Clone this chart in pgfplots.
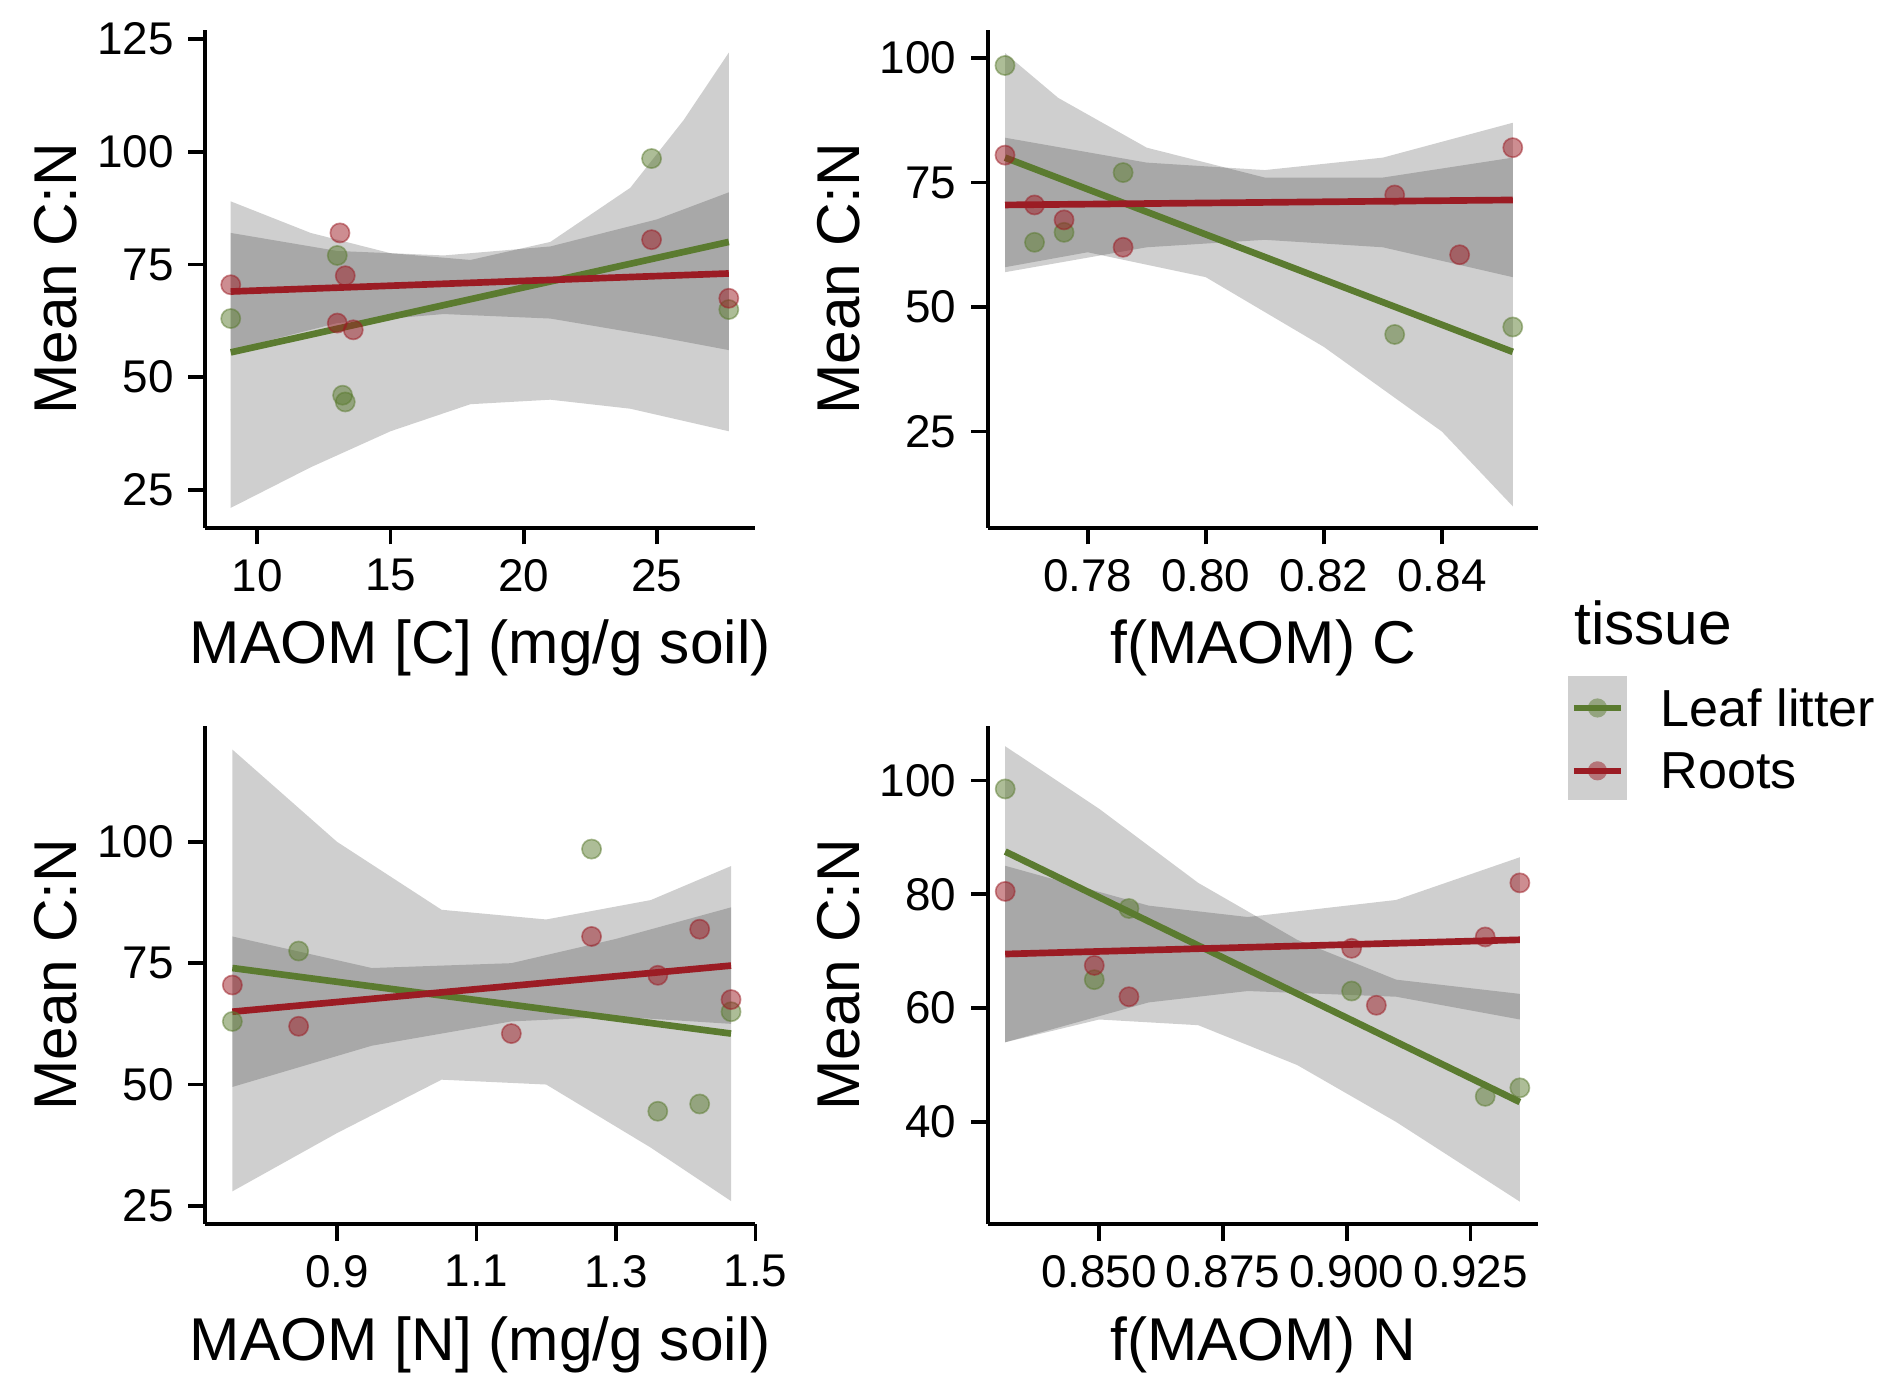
\documentclass[border=0pt]{standalone}
\usepackage{pgfplots}
\pgfplotsset{compat=1.18}
\usepackage{fontspec}
\setmainfont{Liberation Sans}
\definecolor{leaf}{HTML}{5B7B30}
\definecolor{root}{HTML}{9B1C24}
\pgfplotsset{
  base/.style={scale only axis, width=4.64cm, height=4.20cm,
    axis lines=left, axis line style={-, line width=0.9pt},
    tick align=outside, tick pos=left, major tick length=4pt,
    every tick/.style={black, line width=0.9pt},
    /pgf/number format/assume math mode=true,
    tick label style={font=\fontsize{11}{13}\selectfont},
    label style={font=\fontsize{14.5}{17}\selectfont},
    ylabel={Mean C:N}, ylabel style={yshift=-2pt},
    clip=false},
  band/.style={fill=black, fill opacity=0.19, draw=none, forget plot},
  lf/.style={leaf, line width=1.6pt},
  rt/.style={root, line width=1.6pt},
  lp/.style={only marks, mark=*, mark size=2.3pt, draw=leaf, fill=leaf, opacity=0.5},
  rp/.style={only marks, mark=*, mark size=2.3pt, draw=root, fill=root, opacity=0.5},
}
\begin{document}
\begin{tikzpicture}
\path (0,0) rectangle (15.68,11.76);
% Panel 1
\begin{axis}[base, at={(1.73cm,7.31cm)}, xmin=8.04, xmax=28.7, ymin=16.6, ymax=127.1,
  xtick={10,15,20,25}, ytick={25,50,75,100,125}, xlabel={MAOM [C] (mg/g soil)}]
\addplot[band] coordinates {(9,89)(12,82)(15,77.5)(18,76)(21,80)(24,92)(26,107)(27.7,122)(27.7,38)(24,43)(21,45)(18,44)(15,38)(12,30)(9,21)} -- cycle;
\addplot[band] coordinates {(9,82)(13,78)(17,77)(21,79)(25,85)(27.7,91)(27.7,56)(25,59)(21,63)(17,64)(13,62)(9,56)} -- cycle;
\addplot[lp] coordinates {(9,63)(13,77)(13.2,46)(13.3,44.5)(24.8,98.5)(27.7,65)};
\addplot[rp] coordinates {(9,70.5)(13.1,82)(13.3,72.5)(13,62)(13.6,60.5)(24.8,80.5)(27.7,67.5)};
\addplot[lf] coordinates {(9,55.5)(27.7,80)};
\addplot[rt] coordinates {(9,69)(27.7,73)};
\end{axis}
% Panel 2
\begin{axis}[base, at={(8.33cm,7.31cm)}, xmin=0.7631, xmax=0.8563, ymin=5.7, ymax=105.7,
  xtick={0.78,0.80,0.82,0.84}, ytick={25,50,75,100},
  xticklabel style={/pgf/number format/.cd, fixed, fixed zerofill, precision=2},
  xlabel={f(MAOM) C}]
\addplot[band] coordinates {(0.766,101)(0.775,92)(0.79,82)(0.81,76)(0.83,76)(0.852,80)(0.852,10)(0.84,25)(0.82,42)(0.8,56)(0.78,61)(0.766,58)} -- cycle;
\addplot[band] coordinates {(0.766,84)(0.79,79)(0.81,77.5)(0.83,80)(0.852,87)(0.852,56)(0.83,62)(0.81,63.5)(0.79,62)(0.766,57)} -- cycle;
\addplot[lp] coordinates {(0.766,98.5)(0.771,63)(0.776,65)(0.786,77)(0.832,44.5)(0.852,46)};
\addplot[rp] coordinates {(0.766,80.5)(0.771,70.5)(0.776,67.5)(0.786,62)(0.832,72.5)(0.843,60.5)(0.852,82)};
\addplot[lf] coordinates {(0.766,80)(0.852,41)};
\addplot[rt] coordinates {(0.766,70.5)(0.852,71.5)};
\end{axis}
% Panel 3
\begin{axis}[base, at={(1.73cm,1.44cm)}, xmin=0.711, xmax=1.5, ymin=21.3, ymax=123.9,
  xtick={0.9,1.1,1.3,1.5}, ytick={25,50,75,100},
  xticklabel style={/pgf/number format/.cd, fixed, fixed zerofill, precision=1},
  xlabel={MAOM [N] (mg/g soil)}]
\addplot[band] coordinates {(0.75,119)(0.9,100)(1.05,86)(1.2,84)(1.35,88)(1.465,95)(1.465,26)(1.35,37)(1.2,50)(1.05,51)(0.9,40)(0.75,28)} -- cycle;
\addplot[band] coordinates {(0.75,80.5)(0.95,74)(1.15,75)(1.3,80)(1.465,86.5)(1.465,62.5)(1.3,64)(1.15,63)(0.95,58)(0.75,49.5)} -- cycle;
\addplot[lp] coordinates {(0.75,63)(0.845,77.5)(1.265,98.5)(1.36,44.5)(1.42,46)(1.465,65)};
\addplot[rp] coordinates {(0.75,70.5)(0.845,62)(1.15,60.5)(1.265,80.5)(1.36,72.5)(1.42,82)(1.465,67.5)};
\addplot[lf] coordinates {(0.75,74)(1.465,60.5)};
\addplot[rt] coordinates {(0.75,65)(1.465,74.5)};
\end{axis}
% Panel 4
\begin{axis}[base, at={(8.33cm,1.44cm)}, xmin=0.8275, xmax=0.9387, ymin=22.1, ymax=109.6,
  xtick={0.85,0.875,0.9,0.925}, ytick={40,60,80,100},
  xticklabel style={/pgf/number format/.cd, fixed, fixed zerofill, precision=3},
  xlabel={f(MAOM) N}]
\addplot[band] coordinates {(0.831,106)(0.85,95)(0.87,82)(0.89,72)(0.91,65)(0.935,62.5)(0.935,26)(0.91,40)(0.89,50)(0.87,57)(0.85,58)(0.831,54)} -- cycle;
\addplot[band] coordinates {(0.831,85)(0.86,78)(0.88,76)(0.91,79)(0.935,86.5)(0.935,58)(0.91,62)(0.88,63)(0.86,61)(0.831,54)} -- cycle;
\addplot[lp] coordinates {(0.831,98.5)(0.849,65)(0.856,77.5)(0.901,63)(0.928,44.5)(0.935,46)};
\addplot[rp] coordinates {(0.831,80.5)(0.849,67.5)(0.856,62)(0.901,70.5)(0.906,60.5)(0.928,72.5)(0.935,82)};
\addplot[lf] coordinates {(0.831,87.5)(0.935,43.5)};
\addplot[rt] coordinates {(0.831,69.5)(0.935,72)};
\end{axis}
% Legend
\node[anchor=west, font=\fontsize{14.5}{17}\selectfont] at (13.15,6.51) {tissue};
\fill[black!19] (13.22,5.01) rectangle (13.72,6.06);
\draw[leaf, line width=1.6pt] (13.27,5.79) -- (13.67,5.79);
\fill[leaf, opacity=0.5] (13.47,5.79) circle (2.3pt);
\draw[root, line width=1.6pt] (13.27,5.26) -- (13.67,5.26);
\fill[root, opacity=0.5] (13.47,5.26) circle (2.3pt);
\node[anchor=west, font=\fontsize{12.5}{15}\selectfont] at (13.88,5.79) {Leaf litter};
\node[anchor=west, font=\fontsize{12.5}{15}\selectfont] at (13.88,5.26) {Roots};
\end{tikzpicture}
\end{document}
